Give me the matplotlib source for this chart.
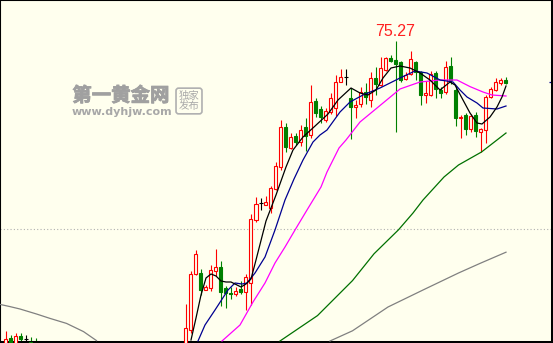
import matplotlib.pyplot as plt
import matplotlib.patheffects as pe

plt.rcParams['font.family'] = ['Noto Sans CJK SC', 'DejaVu Sans']

BG = '#ffffee'
UP = '#ff0000'
DOWN = '#008000'

# trading-day index of each visible candle (days 7-35 sit below the view)
days = [0, 1, 2, 3, 4, 5, 6] + list(range(36, 101))

opens = [60.07, 60.42, 60.07, 60.52, 60.35, 60.22, 60.17,
         59.82, 60.82, 63.62, 63.67, 62.82, 62.92, 63.79, 63.96, 62.90, 62.69,
         62.62, 62.85, 62.74, 63.17, 66.32, 67.15, 67.07, 66.90, 67.87, 68.99,
         70.96, 69.91, 70.52, 70.24, 70.99, 70.57, 72.29, 71.86, 71.30, 71.72,
         71.92, 73.24, 73.47, 72.42, 71.97, 72.12, 72.72, 72.32, 73.42, 73.07,
         73.82, 74.42, 74.32, 74.22, 73.35, 73.62, 74.20, 73.72, 72.57, 72.57,
         73.67, 72.80, 72.72, 74.00, 72.82, 71.40, 71.57, 70.85, 71.57, 70.72,
         70.82, 72.45, 72.82, 73.15, 73.32]
highs = [60.79, 60.57, 60.69, 60.69, 60.57, 60.48, 60.42,
         62.12, 63.77, 64.80, 63.87, 63.07, 64.07, 64.87, 64.27, 63.02, 62.99,
         62.97, 63.27, 63.62, 66.62, 67.47, 67.42, 67.50, 68.02, 69.22, 71.32,
         71.16, 70.65, 70.66, 71.07, 71.40, 73.07, 72.41, 72.00, 71.92, 72.66,
         73.57, 73.85, 73.87, 72.90, 72.32, 72.97, 73.17, 73.72, 73.97, 74.45,
         74.49, 74.57, 75.27, 74.27, 73.72, 74.77, 74.27, 73.77, 73.27, 73.77,
         73.75, 72.97, 74.25, 74.45, 73.00, 71.57, 71.65, 71.60, 71.72, 70.90,
         72.57, 72.97, 73.40, 73.40, 73.45]
lows = [60.02, 60.02, 60.02, 60.27, 60.10, 60.00, 59.97,
        59.57, 60.67, 63.57, 62.57, 62.80, 62.77, 63.52, 62.02, 61.92, 62.35,
        62.52, 62.62, 61.82, 62.07, 66.20, 66.82, 67.05, 66.67, 67.82, 68.82,
        69.74, 69.87, 70.07, 70.02, 69.77, 70.42, 71.47, 71.17, 71.22, 71.62,
        71.52, 73.22, 73.07, 70.35, 71.40, 71.97, 72.12, 71.97, 72.57, 73.02,
        73.77, 74.20, 70.72, 73.22, 73.30, 73.57, 73.32, 72.07, 72.15, 72.52,
        72.42, 72.42, 72.62, 73.12, 71.00, 70.40, 70.57, 70.72, 70.47, 69.72,
        70.17, 72.42, 72.77, 73.07, 73.12]
closes = [60.37, 60.07, 60.52, 60.36, 60.35, 60.07, 60.00,
          60.91, 63.62, 64.62, 62.82, 62.99, 63.82, 63.96, 62.74, 62.67, 62.62,
          62.79, 62.70, 63.49, 66.37, 67.12, 67.15, 67.22, 67.92, 69.02, 70.96,
          69.96, 70.49, 70.24, 70.82, 70.52, 72.24, 71.66, 71.49, 71.79, 72.41,
          73.24, 73.47, 73.47, 71.95, 72.05, 72.72, 72.47, 73.40, 73.12, 73.91,
          74.41, 74.27, 74.12, 73.32, 73.57, 74.37, 73.72, 72.57, 72.65, 73.62,
          72.87, 72.65, 73.99, 73.32, 71.40, 71.48, 70.87, 71.52, 70.77, 70.85,
          72.47, 72.85, 73.22, 73.32, 73.17]

# moving averages as (day, price)
ma5_x = [37, 38, 39, 40, 41, 42, 43, 44, 45, 47, 48, 49, 50, 52, 54, 56, 57.4,
         59.4, 61.6, 64.4, 66.4, 69, 70.8, 72.4, 74, 75.4, 77, 78.8, 80.8, 82.8,
         84.8, 86.8, 88.8, 89.8, 91.4, 92.8, 94.2, 95.2, 96.8, 98.2, 99.2, 100]
ma5_y = [60.32, 61.42, 62.57, 63.42, 63.62, 63.52, 63.27, 63.22, 63.22, 62.97,
         63.12, 63.37, 64.32, 66.27, 67.57, 68.97, 69.82, 70.47, 70.97, 71.62,
         72.32, 72.92, 72.67, 72.57, 72.82, 73.42, 73.92, 74.02, 73.92, 73.67,
         73.32, 72.82, 73.22, 73.07, 72.32, 71.67, 71.17, 71.12, 71.47, 71.97,
         72.47, 73.02]
ma10_x = [38.4, 39.8, 41.8, 44.4, 45.8, 47.2, 48.2, 49.8, 51.8, 53.8, 55.8, 57.6,
          59.4, 61.4, 62.8, 64.2, 66.8, 68.8, 71.4, 74.8, 78.8, 81.8, 84.2, 86.8,
          89.4, 90.8, 92.2, 94.2, 95.4, 98.2, 100]
ma10_y = [60.27, 61.07, 61.82, 62.82, 63.17, 63.12, 63.17, 63.67, 64.47, 65.82,
          67.32, 68.37, 69.32, 70.22, 70.57, 70.82, 71.72, 72.22, 72.57, 72.92,
          73.42, 73.77, 73.67, 73.32, 73.22, 72.82, 72.47, 72.17, 71.92, 71.87,
          72.02]
ma20_x = [43.2, 46.8, 49.4, 51.8, 53.8, 55.8, 57.8, 60.2, 63, 64.2, 66.6, 68,
          70.8, 74.2, 78.8, 82.8, 86.8, 90.2, 92.8, 95.4, 97.2, 100]
ma20_y = [60.27, 61.07, 62.22, 63.17, 64.17, 64.97, 65.82, 66.82, 67.97, 68.72,
          69.92, 70.32, 71.22, 71.92, 72.87, 73.22, 73.32, 73.32, 72.99, 72.72,
          72.57, 72.52]
ma60_x = [54.8, 62.3, 69.3, 73.6, 78.5, 81.4, 83.4, 87.6, 90.5, 95.1, 100]
ma60_y = [60.27, 61.54, 63.29, 64.63, 65.83, 66.67, 67.32, 68.47, 69.07,
          69.72, 70.67]
ma120_left_x = [-1.2, 0.8, 2.8, 6.1, 8.8, 12.1, 15.5, 18.1]
ma120_left_y = [62.10, 61.99, 61.87, 61.62, 61.40, 61.15, 60.74, 60.29]
ma120_right_x = [64.8, 69.3, 76.4, 83.4, 90.5, 94.8, 100]
ma120_right_y = [60.27, 60.78, 61.97, 62.82, 63.67, 64.15, 64.71]

ref_level = 65.85
last_mark = 73.23

fig = plt.figure(figsize=(5.53, 3.43), dpi=100)
ax = fig.add_axes([0, 0, 1, 1])
ax.set_facecolor(BG)
ax.set_xlim(-1.2, 109.4)
ax.set_ylim(60.17, 77.32)
ax.set_xticks([])
ax.set_yticks([])
for side in ['left', 'top']:
    ax.spines[side].set_linewidth(1.5)
for side in ['right', 'bottom']:
    ax.spines[side].set_linewidth(2.9)

ax.axhline(ref_level, color='#b0b0b0', lw=0.8, ls=(0, (1, 2)), zorder=1)

# candles
for d, o, h, l, c in zip(days, opens, highs, lows, closes):
    if c > o:
        col, face = UP, BG
    elif c < o:
        col, face = DOWN, DOWN
    else:
        col, face = 'black', None
    ax.vlines(d, l, h, color=col, lw=0.8, zorder=2)
    if face is None:
        ax.hlines(o, d - 0.35, d + 0.35, color=col, lw=0.8, zorder=3)
    else:
        ax.bar(d, abs(c - o), bottom=min(o, c), width=0.6, facecolor=face,
               edgecolor=col, lw=0.8, zorder=3)

ax.plot(ma120_left_x, ma120_left_y, color='#808080', lw=0.9, zorder=4)
ax.plot(ma120_right_x, ma120_right_y, color='#808080', lw=0.9, zorder=4)
ax.plot(ma60_x, ma60_y, color='#007000', lw=0.9, zorder=4)
ax.plot(ma20_x, ma20_y, color='#ff00ff', lw=0.9, zorder=4)
ax.plot(ma10_x, ma10_y, color='#000090', lw=0.9, zorder=4)
ax.plot(ma5_x, ma5_y, color='black', lw=0.9, zorder=4)
ax.hlines(last_mark, 108.6, 109.4, color='#000090', lw=0.9)

# highest high label
top = highs.index(max(highs))
ax.annotate(f'{max(highs):.2f}', xy=(days[top], highs[top]), xytext=(-1, 10),
            textcoords='offset pixels', ha='center', va='center',
            color='#ff2020', fontsize=11.5, family='Liberation Sans')

# watermark
thick = [pe.withStroke(linewidth=0.6, foreground='#a0a0a0')]
fig.text(121 / 553, 1 - 96 / 343, '第一黄金网', ha='center', va='center',
         fontsize=14, fontweight='bold', color='#a0a0a0', path_effects=thick)
fig.text(122 / 553, 1 - 112 / 343, 'www.dyhjw.com', ha='center', va='center',
         fontsize=8, fontweight='bold', color='#a8a8a8', family='DejaVu Sans')
fig.text(189 / 553, 1 - 101 / 343, '独家\n发布', ha='center', va='center',
         fontsize=7.5, color='#a8a8a8', linespacing=1.05,
         bbox=dict(boxstyle='round,pad=0.25', fc='none', ec='#b0b0b0', lw=1.2))

fig.savefig('out.png', dpi=100, facecolor=BG)
